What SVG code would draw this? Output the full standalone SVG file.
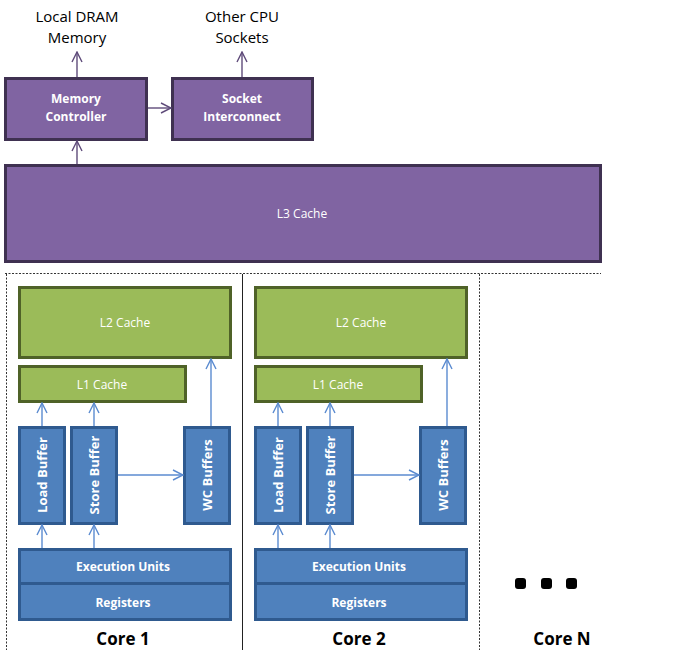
<svg xmlns="http://www.w3.org/2000/svg" width="683" height="650" viewBox="0 0 683 650">
<defs>
<marker id="ap" viewBox="0 0 12 12" refX="11" refY="6" markerWidth="12" markerHeight="12" markerUnits="userSpaceOnUse" orient="auto"><path d="M1,1 L11,6 L1,11" fill="none" stroke="#5f4b7a" stroke-width="1.4"/></marker>
<marker id="ab" viewBox="0 0 12 12" refX="11" refY="6" markerWidth="12" markerHeight="12" markerUnits="userSpaceOnUse" orient="auto"><path d="M1,1 L11,6 L1,11" fill="none" stroke="#5b8bd0" stroke-width="1.4"/></marker>
</defs>
<style>
.pu{fill:#8064a2;stroke:#3f3151;stroke-width:3}
.gr{fill:#9bbb59;stroke:#4f6228;stroke-width:3}
.bl{fill:#4f81bd;stroke:#2f5a8f;stroke-width:3}
.wt{fill:#ffffff;font-family:"Open Sans","Noto Sans","Liberation Sans",sans-serif;font-size:12px;text-anchor:middle;dominant-baseline:central}
.wb{font-weight:bold}
.rt{font-size:13px}
.bk{fill:#000000;font-family:"Open Sans","Noto Sans","Liberation Sans",sans-serif;font-size:15px;text-anchor:middle}
.core{fill:#000000;font-family:"Open Sans","Noto Sans","Liberation Sans",sans-serif;font-size:17px;font-weight:bold;text-anchor:middle}
.lp{fill:none;stroke:#5f4b7a;stroke-width:1.4;marker-end:url(#ap)}
.lb{fill:none;stroke:#5b8bd0;stroke-width:1.4;marker-end:url(#ab)}
.dash{fill:none;stroke:#333;stroke-width:1;stroke-dasharray:2,1.5}
.sol{fill:none;stroke:#222;stroke-width:1}
</style>
<g id="labels">
<text class="bk" x="77" y="22">Local DRAM</text>
<text class="bk" x="77" y="43">Memory</text>
<text class="bk" x="242" y="22">Other CPU</text>
<text class="bk" x="242" y="43">Sockets</text>
</g>
<g id="memory-controller"><rect class="pu" x="5.5" y="78.5" width="141" height="61"/><text class="wt wb" x="76" y="98">Memory</text><text class="wt wb" x="76" y="116">Controller</text></g>
<g id="socket-interconnect"><rect class="pu" x="172.5" y="78.5" width="140" height="61"/><text class="wt wb" x="242" y="98">Socket</text><text class="wt wb" x="242" y="116">Interconnect</text></g>
<g id="l3-cache"><rect class="pu" x="5.5" y="165.5" width="595" height="96"/><text class="wt" x="302" y="213">L3 Cache</text></g>
<g id="core-frames">
<line class="dash" x1="5" y1="273.5" x2="601" y2="273.5"/>
<line class="dash" x1="6.5" y1="274" x2="6.5" y2="650"/>
<line class="sol" x1="242.5" y1="274" x2="242.5" y2="650"/>
<line class="dash" x1="479.5" y1="274" x2="479.5" y2="650"/>
</g>
<g id="core1">
<g id="c1-l2"><rect class="gr" x="19.5" y="287.5" width="211" height="70"/><text class="wt" x="125" y="322">L2 Cache</text></g>
<g id="c1-l1"><rect class="gr" x="19.5" y="366.5" width="166" height="35"/><text class="wt" x="102" y="384">L1 Cache</text></g>
<g id="c1-load"><rect class="bl" x="19.5" y="427.5" width="45" height="96"/><text class="wt wb rt" transform="translate(42,475) rotate(-90)">Load Buffer</text></g>
<g id="c1-store"><rect class="bl" x="71.5" y="427.5" width="45" height="96"/><text class="wt wb rt" transform="translate(94,475) rotate(-90)">Store Buffer</text></g>
<g id="c1-wc"><rect class="bl" x="184.5" y="427.5" width="45" height="96"/><text class="wt wb rt" transform="translate(207,475) rotate(-90)">WC Buffers</text></g>
<g id="c1-exec"><rect class="bl" x="19.5" y="549.5" width="211" height="34"/><text class="wt wb" x="123" y="566">Execution Units</text></g>
<g id="c1-reg"><rect class="bl" x="19.5" y="583.5" width="211" height="36"/><text class="wt wb" x="123" y="602">Registers</text></g>
<text class="core" x="123" y="645">Core 1</text>
</g>
<g id="core2">
<g id="c2-l2"><rect class="gr" x="255.5" y="287.5" width="211" height="70"/><text class="wt" x="361" y="322">L2 Cache</text></g>
<g id="c2-l1"><rect class="gr" x="255.5" y="366.5" width="166" height="35"/><text class="wt" x="338" y="384">L1 Cache</text></g>
<g id="c2-load"><rect class="bl" x="255.5" y="427.5" width="45" height="96"/><text class="wt wb rt" transform="translate(278,475) rotate(-90)">Load Buffer</text></g>
<g id="c2-store"><rect class="bl" x="307.5" y="427.5" width="45" height="96"/><text class="wt wb rt" transform="translate(330,475) rotate(-90)">Store Buffer</text></g>
<g id="c2-wc"><rect class="bl" x="420.5" y="427.5" width="45" height="96"/><text class="wt wb rt" transform="translate(443,475) rotate(-90)">WC Buffers</text></g>
<g id="c2-exec"><rect class="bl" x="255.5" y="549.5" width="211" height="34"/><text class="wt wb" x="359" y="566">Execution Units</text></g>
<g id="c2-reg"><rect class="bl" x="255.5" y="583.5" width="211" height="36"/><text class="wt wb" x="359" y="602">Registers</text></g>
<text class="core" x="359" y="645">Core 2</text>
</g>
<g id="coreN">
<rect x="515" y="578" width="11" height="11" rx="3" fill="#000"/>
<rect x="541" y="578" width="11" height="11" rx="3" fill="#000"/>
<rect x="566" y="578" width="11" height="11" rx="3" fill="#000"/>
<text class="core" x="562" y="645">Core N</text>
</g>
<g id="connectors">
<line class="lp" x1="77" y1="77" x2="77" y2="52"/>
<line class="lp" x1="242" y1="77" x2="242" y2="52"/>
<line class="lp" x1="148" y1="108" x2="171" y2="108"/>
<line class="lp" x1="77" y1="164" x2="77" y2="141"/>
<line class="lb" x1="42" y1="426" x2="42" y2="403"/>
<line class="lb" x1="94" y1="426" x2="94" y2="403"/>
<line class="lb" x1="211" y1="426" x2="211" y2="359"/>
<line class="lb" x1="118" y1="475" x2="183" y2="475"/>
<line class="lb" x1="42" y1="548" x2="42" y2="525"/>
<line class="lb" x1="94" y1="548" x2="94" y2="525"/>
<line class="lb" x1="278" y1="426" x2="278" y2="403"/>
<line class="lb" x1="330" y1="426" x2="330" y2="403"/>
<line class="lb" x1="447" y1="426" x2="447" y2="359"/>
<line class="lb" x1="354" y1="475" x2="419" y2="475"/>
<line class="lb" x1="278" y1="548" x2="278" y2="525"/>
<line class="lb" x1="330" y1="548" x2="330" y2="525"/>
</g>
</svg>
